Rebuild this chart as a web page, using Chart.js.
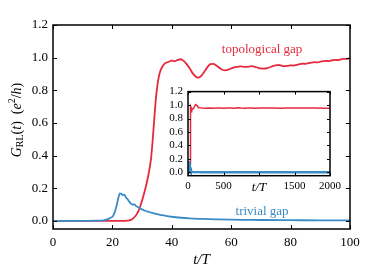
<!DOCTYPE html>
<html>
<head>
<meta charset="utf-8">
<script src="https://cdn.jsdelivr.net/npm/chart.js@4.4.1/dist/chart.umd.min.js"></script>
<style>
  html, body { margin: 0; padding: 0; background: #fff; }
  #wrap { position: relative; width: 389px; height: 275px; }
  #main { position: absolute; left: 0; top: 0; }
  #inset { position: absolute; left: 160px; top: 80px; }
</style>
</head>
<body>
<div id="wrap">
  <canvas id="main" width="389" height="275"></canvas>
  <canvas id="inset" width="185" height="120"></canvas>
</div>
<script>
// main panel: t/T from 0 to 100
const topoTime = [0, 5, 10, 15, 20, 24, 25, 26, 27, 28, 29, 30, 31, 32, 33, 33.5, 34, 34.5, 35, 35.5, 36, 37, 38, 39, 40,
  41, 42, 43, 44, 45, 46, 47, 48, 49, 50, 51, 52, 53, 54, 55, 56, 57, 58, 59, 60, 61, 62, 63, 64, 65, 66, 67, 68, 69, 70,
  71, 72, 73, 74, 75, 76, 77, 78, 79, 80, 81, 82, 83, 84, 85, 86, 87, 88, 89, 90, 91, 92, 93, 94, 95, 96, 97, 98, 99, 100];
const topoVals = [0, 0, 0, 0, 0, 0, 0.001, 0.004, 0.015, 0.035, 0.07, 0.125, 0.19, 0.27, 0.38, 0.48, 0.6, 0.72, 0.81, 0.87, 0.91, 0.95, 0.968, 0.975, 0.982,
  0.978, 0.986, 0.99, 0.98, 0.96, 0.935, 0.905, 0.885, 0.878, 0.89, 0.915, 0.942, 0.96, 0.962, 0.952, 0.938, 0.926, 0.922, 0.926, 0.934, 0.94, 0.944, 0.946, 0.945, 0.943, 0.945, 0.948, 0.944, 0.938, 0.934,
  0.933, 0.935, 0.941, 0.948, 0.953, 0.955, 0.951, 0.948, 0.95, 0.953, 0.951, 0.955, 0.96, 0.963, 0.962, 0.966, 0.97, 0.972, 0.971, 0.975, 0.978, 0.98, 0.979, 0.984, 0.986, 0.985, 0.99, 0.993, 0.992, 0.997];

const trivTime = [0, 10, 15, 17, 18, 19, 20, 20.5, 21, 21.5, 22, 22.5, 23, 23.5, 24, 24.5, 25, 25.5, 26, 26.5, 27, 27.5, 28, 29, 30,
  31, 32, 33, 34, 35, 36, 38, 40, 43, 46, 50, 55, 60, 65, 70, 80, 90, 100];
const trivVals = [0, 0, 0.001, 0.003, 0.007, 0.015, 0.026, 0.04, 0.065, 0.1, 0.14, 0.168, 0.165, 0.158, 0.16, 0.145, 0.135, 0.122, 0.11, 0.102, 0.1, 0.099, 0.09, 0.08, 0.07,
  0.062, 0.056, 0.051, 0.046, 0.041, 0.037, 0.031, 0.025, 0.019, 0.015, 0.012, 0.009, 0.007, 0.006, 0.005, 0.004, 0.003, 0.003];

// inset: long times up to 2000
const insetTopoTime = [0, 20, 26, 28, 30, 32, 34, 36, 40, 45, 50, 55, 60, 70, 80, 90, 100, 110, 120, 130, 140, 150, 170, 200, 250,
  300, 350, 400, 450, 500, 550, 600, 650, 700, 750, 800, 850, 900, 950, 1000, 1100, 1200, 1300, 1400, 1500, 1600, 1700, 1800, 1900, 2000];
const insetTopoVals = [0, 0, 0.004, 0.035, 0.125, 0.27, 0.6, 0.91, 0.982, 0.96, 0.89, 0.952, 0.934, 0.934, 0.953, 0.975, 0.997, 1.005, 1.0, 0.99, 0.975, 0.965, 0.958, 0.955, 0.953,
  0.956, 0.954, 0.957, 0.955, 0.953, 0.956, 0.958, 0.954, 0.96, 0.955, 0.953, 0.956, 0.957, 0.954, 0.956, 0.955, 0.957, 0.954, 0.956, 0.955, 0.957, 0.955, 0.956, 0.954, 0.953];
const insetTrivTime = [0, 15, 18, 20, 22.5, 25, 30, 40, 50, 70, 100, 150, 200, 300, 500, 800, 1000, 1500, 2000];
const insetTrivVals = [0, 0.001, 0.007, 0.026, 0.168, 0.135, 0.07, 0.025, 0.012, 0.005, 0.003, 0.003, 0.002, 0.002, 0.002, 0.002, 0.002, 0.002, 0.002];

const mainXTicks = [0, 20, 40, 60, 80, 100];
const yTicks = [0, 0.2, 0.4, 0.6, 0.8, 1.0, 1.2];
const insetXTicks = [0, 500, 1000, 1500, 2000];

const RED = '#e62a3e';
const BLUE = '#3a8cc6';
const FONT = "'Liberation Serif', 'DejaVu Serif', serif";

const toPoints = (xs, ys) => xs.map((x, i) => ({ x, y: ys[i] }));
const setTicks = (vals) => (scale) => { scale.ticks = vals.map(v => ({ value: v })); };

// inward ticks on all four sides plus the box
const frameTicks = {
  id: 'frameTicks',
  beforeDatasetsDraw(chart) {
    const { ctx, chartArea: a } = chart;
    ctx.save();
    ctx.fillStyle = '#fff';
    ctx.fillRect(a.left, a.top, a.right - a.left, a.bottom - a.top);
    ctx.restore();
  },
  afterDatasetsDraw(chart, args, opts) {
    const { ctx, chartArea: a, scales } = chart;
    const len = opts.len || 4;
    ctx.save();
    ctx.strokeStyle = '#000';
    ctx.lineWidth = 1;
    ctx.beginPath();
    scales.x.ticks.forEach(t => {
      const px = Math.round(scales.x.getPixelForValue(t.value)) + 0.5;
      ctx.moveTo(px, a.bottom); ctx.lineTo(px, a.bottom - len);
      ctx.moveTo(px, a.top); ctx.lineTo(px, a.top + len);
    });
    scales.y.ticks.forEach(t => {
      const py = Math.round(scales.y.getPixelForValue(t.value)) + 0.5;
      ctx.moveTo(a.left, py); ctx.lineTo(a.left + len, py);
      ctx.moveTo(a.right, py); ctx.lineTo(a.right - len, py);
    });
    ctx.stroke();
    ctx.lineWidth = opts.frame || 1.5;
    ctx.strokeRect(a.left, a.top, a.right - a.left, a.bottom - a.top);
    ctx.restore();
  }
};

// G_RL(t) (e^2/h) label and the two curve labels
const labels = {
  id: 'labels',
  afterDraw(chart) {
    const { ctx, scales } = chart;
    ctx.save();
    ctx.font = '13px ' + FONT;
    ctx.textAlign = 'center';
    ctx.textBaseline = 'middle';
    ctx.fillStyle = RED;
    ctx.fillText('topological gap', scales.x.getPixelForValue(70.4), scales.y.getPixelForValue(1.05));
    ctx.fillStyle = BLUE;
    ctx.fillText('trivial gap', scales.x.getPixelForValue(70.4), scales.y.getPixelForValue(0.055));

    const parts = [
      { t: 'G', f: 'italic 14px ' + FONT, dy: 0 },
      { t: 'RL', f: '10px ' + FONT, dy: 3 },
      { t: '(', f: '14px ' + FONT, dy: 0 },
      { t: 't', f: 'italic 14px ' + FONT, dy: 0 },
      { t: ')  (', f: '14px ' + FONT, dy: 0 },
      { t: 'e', f: 'italic 14px ' + FONT, dy: 0 },
      { t: '2', f: '10px ' + FONT, dy: -5 },
      { t: '/', f: '14px ' + FONT, dy: 0 },
      { t: 'h', f: 'italic 14px ' + FONT, dy: 0 },
      { t: ')', f: '14px ' + FONT, dy: 0 }
    ];
    let w = 0;
    parts.forEach(p => { ctx.font = p.f; p.w = ctx.measureText(p.t).width; w += p.w; });
    ctx.fillStyle = '#000';
    ctx.textAlign = 'left';
    ctx.translate(17, 120);
    ctx.rotate(-Math.PI / 2);
    let x = -w / 2;
    parts.forEach(p => { ctx.font = p.f; ctx.fillText(p.t, x, p.dy); x += p.w; });
    ctx.restore();
  }
};

const mainChart = new Chart(document.getElementById('main'), {
  type: 'line',
  data: {
    datasets: [
      { data: toPoints(trivTime, trivVals), borderColor: BLUE, borderWidth: 1.8, pointRadius: 0, cubicInterpolationMode: 'monotone' },
      { data: toPoints(topoTime, topoVals), borderColor: RED, borderWidth: 1.8, pointRadius: 0, cubicInterpolationMode: 'monotone' }
    ]
  },
  options: {
    responsive: false,
    animation: false,
    layout: { padding: { top: 25, right: 39, left: 0, bottom: 0 } },
    plugins: { legend: { display: false }, tooltip: { enabled: false }, frameTicks: { len: 4, frame: 1.5 } },
    scales: {
      x: {
        type: 'linear', min: 0, max: 100,
        afterBuildTicks: setTicks(mainXTicks),
        afterFit: (s) => { s.height = 46; },
        grid: { display: false, drawTicks: false },
        border: { display: false },
        ticks: { autoSkip: false, maxRotation: 0, padding: 6, color: '#000', font: { family: FONT, size: 13 } },
        title: { display: true, text: 't/T', color: '#000', font: { family: FONT, size: 15, style: 'italic' }, padding: { top: 0, bottom: 6 } }
      },
      y: {
        min: -0.05, max: 1.2,
        afterBuildTicks: setTicks(yTicks),
        afterFit: (s) => { s.width = 53; },
        grid: { display: false, drawTicks: false },
        border: { display: false },
        ticks: { autoSkip: false, padding: 5, color: '#000', font: { family: FONT, size: 13 }, callback: (v) => v.toFixed(1) }
      }
    }
  },
  plugins: [frameTicks, labels]
});

const insetChart = new Chart(document.getElementById('inset'), {
  type: 'line',
  data: {
    datasets: [
      { data: toPoints(insetTrivTime, insetTrivVals), borderColor: BLUE, borderWidth: 2.4, pointRadius: 0 },
      { data: toPoints(insetTopoTime, insetTopoVals), borderColor: RED, borderWidth: 1.5, pointRadius: 0 }
    ]
  },
  options: {
    responsive: false,
    animation: false,
    layout: { padding: { top: 9, right: 12, left: 0, bottom: 0 } },
    plugins: { legend: { display: false }, tooltip: { enabled: false }, frameTicks: { len: 3, frame: 1.5 } },
    scales: {
      x: {
        type: 'linear', min: 0, max: 2000,
        afterBuildTicks: setTicks(insetXTicks),
        afterFit: (s) => { s.height = 24.3; },
        grid: { display: false, drawTicks: false },
        border: { display: false },
        ticks: {
          autoSkip: false, maxRotation: 0, padding: 4, color: '#000',
          font: (c) => (c.tick && c.tick.value === 1000)
            ? { family: FONT, size: 13, style: 'italic' }
            : { family: FONT, size: 11 },
          callback: (v) => (v === 1000 ? 't/T' : String(v))
        }
      },
      y: {
        min: -0.05, max: 1.2,
        afterBuildTicks: setTicks(yTicks),
        afterFit: (s) => { s.width = 28; },
        grid: { display: false, drawTicks: false },
        border: { display: false },
        ticks: { autoSkip: false, padding: 5, color: '#000', font: { family: FONT, size: 11 }, callback: (v) => v.toFixed(1) }
      }
    }
  },
  plugins: [frameTicks]
});
</script>
</body>
</html>
